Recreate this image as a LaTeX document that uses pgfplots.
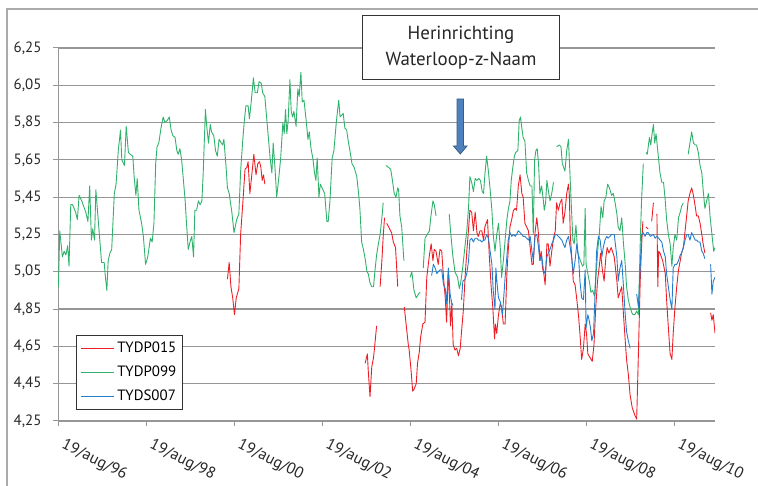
\documentclass[border=0pt]{standalone}
\usepackage{pgfplots}
\pgfplotsset{compat=1.18}
\usepackage{fontspec}
\setmainfont{PT Sans}

\definecolor{cRed}{RGB}{238,30,38}
\definecolor{cGreen}{RGB}{48,178,108}
\definecolor{cBlue}{RGB}{35,125,205}
\definecolor{cGrid}{RGB}{150,150,150}
\definecolor{cArrow}{RGB}{79,129,189}
\definecolor{cArrowD}{RGB}{56,93,138}

\begin{document}
\begin{tikzpicture}[x=1bp,y=1bp]
\useasboundingbox (0,0) rectangle (758,486);
% chart area border
\draw[cGrid!80,line width=1.2bp] (7,0) -- (7,477) -- (758,477);

\begin{axis}[
  at={(58bp,65bp)}, anchor=south west,
  scale only axis, width=657bp, height=373bp,
  xmin=1996.63, xmax=2011.56,
  ymin=4.25, ymax=6.25,
  axis x line*=bottom, axis y line*=left,
  axis line style={cGrid,line width=1bp},
  xtick={1996.63,1998.63,2000.63,2002.63,2004.63,2006.63,2008.63,2010.63},
  xticklabels={19/aug/96,19/aug/98,19/aug/00,19/aug/02,19/aug/04,19/aug/06,19/aug/08,19/aug/10},
  ytick={4.25,4.45,4.65,4.85,5.05,5.25,5.45,5.65,5.85,6.05,6.25},
  yticklabels={{4,25},{4,45},{4,65},{4,85},{5,05},{5,25},{5,45},{5,65},{5,85},{6,05},{6,25}},
  tick align=outside, major tick length=5bp,
  tick style={cGrid,line width=1bp},
  ymajorgrids, grid style={cGrid,line width=1.2bp},
  ticklabel style={text=black!85},
  yticklabel style={font=\fontsize{15}{15}\selectfont, xshift=-8bp},
  xticklabel style={font=\fontsize{16}{16}\selectfont, xshift=6.5bp, yshift=-6.5bp, rotate=-27, anchor=north west},
  unbounded coords=jump,
  every axis plot/.append style={line width=0.9bp, line join=round},
  legend style={at={(axis description cs:0.0274,0.2306)}, anchor=north west,
    draw=black!80, line width=0.8bp, fill=white,
    font=\fontsize{15}{15}\selectfont,
    inner xsep=4bp, inner ysep=4bp, row sep=6bp, column sep=1bp,
    nodes={inner sep=2bp, text height=11bp, text depth=3bp},
    cells={anchor=west}},
  legend image code/.code={\draw[#1] (0bp,0bp) -- (33bp,0bp);},
]

% TYDP015
\addplot[cRed] coordinates {
(2000.48,5.01) (2000.52,5.10) (2000.56,4.97) (2000.60,4.91) (2000.64,4.82) (2000.68,4.91)
(2000.74,4.96) (2000.78,5.25) (2000.83,5.42) (2000.88,5.60) (2000.92,5.61) (2000.95,5.64)
(2000.99,5.47) (2001.03,5.56) (2001.08,5.68) (2001.13,5.57) (2001.17,5.63) (2001.21,5.64)
(2001.24,5.61) (2001.27,5.54) (2001.30,5.57) (2001.33,5.52)
(2001.40,nan)
(2003.61,4.56) (2003.66,4.61) (2003.68,4.52) (2003.72,4.38) (2003.76,4.54) (2003.80,4.59)
(2003.83,4.66) (2003.87,4.76)
(2003.91,nan)
(2003.95,4.97) (2003.99,5.11) (2004.02,5.24) (2004.05,5.34)
(2004.07,nan)
(2004.10,5.31) (2004.21,5.26) (2004.25,5.21) (2004.30,5.18) (2004.35,4.97)
(2004.42,nan)
(2004.50,4.86) (2004.54,4.77) (2004.59,4.66) (2004.61,4.63) (2004.65,4.53) (2004.69,4.41)
(2004.72,4.42) (2004.77,4.45) (2004.80,4.56) (2004.84,4.62) (2004.87,4.70) (2004.92,4.77)
(2004.97,4.78) (2005.01,5.02) (2005.07,5.14) (2005.11,5.20) (2005.15,5.11) (2005.18,5.17)
(2005.22,5.16) (2005.27,5.09) (2005.31,5.17) (2005.35,5.16) (2005.39,5.02) (2005.43,4.91)
(2005.46,4.78) (2005.50,5.06) (2005.52,4.95) (2005.55,4.76) (2005.58,4.88) (2005.61,4.66)
(2005.65,4.63) (2005.69,4.64) (2005.73,4.60) (2005.77,4.64) (2005.80,4.73) (2005.84,4.84)
(2005.88,5.02) (2005.92,5.16) (2005.96,5.28) (2005.99,5.38) (2006.03,5.37) (2006.07,5.27)
(2006.11,5.37) (2006.15,5.26) (2006.18,5.24) (2006.22,5.27) (2006.26,5.27) (2006.30,5.22)
(2006.33,5.29) (2006.39,5.33) (2006.43,5.14) (2006.47,4.98) (2006.51,4.86) (2006.55,4.69)
(2006.57,4.77) (2006.60,4.72) (2006.64,4.82) (2006.68,4.88) (2006.71,4.86) (2006.75,4.77)
(2006.79,4.77) (2006.83,5.04) (2006.86,5.16) (2006.90,5.29) (2006.94,5.33) (2006.98,5.38)
(2007.02,5.39) (2007.05,5.38) (2007.09,5.51) (2007.13,5.57) (2007.17,5.47) (2007.20,5.45)
(2007.24,5.31) (2007.28,5.29) (2007.32,5.27) (2007.36,5.18) (2007.40,5.09) (2007.43,5.09)
(2007.47,5.26) (2007.51,5.34) (2007.55,5.25) (2007.58,5.11) (2007.61,5.16) (2007.64,5.07)
(2007.67,5.04) (2007.70,4.98) (2007.74,5.20) (2007.77,5.20) (2007.81,5.08) (2007.85,5.16)
(2007.89,5.23) (2007.93,5.27) (2007.96,5.42) (2008.00,5.38) (2008.04,5.42) (2008.08,5.44)
(2008.11,5.31) (2008.15,5.37) (2008.19,5.47) (2008.23,5.52) (2008.25,5.46) (2008.27,5.25)
(2008.31,5.11) (2008.34,5.00) (2008.38,4.98) (2008.42,4.90) (2008.46,4.81) (2008.49,4.72)
(2008.53,4.58) (2008.57,4.64) (2008.61,4.77) (2008.64,4.72) (2008.67,4.61) (2008.72,4.59)
(2008.77,4.57) (2008.81,4.66) (2008.85,4.86) (2008.89,5.00) (2008.93,5.08) (2008.96,5.15)
(2009.00,5.06) (2009.04,5.00) (2009.08,5.13) (2009.11,5.18) (2009.15,5.15) (2009.20,5.18)
(2009.23,5.16) (2009.27,5.13) (2009.33,5.00) (2009.36,4.91) (2009.40,4.94) (2009.44,4.97)
(2009.48,4.82) (2009.52,4.68) (2009.55,4.58) (2009.59,4.50) (2009.63,4.39) (2009.68,4.32)
(2009.74,4.28) (2009.78,4.26) (2009.82,4.62) (2009.86,5.00) (2009.89,5.18) (2009.92,5.32)
(2009.96,nan)
(2009.99,5.29) (2010.04,5.28)
(2010.08,nan)
(2010.12,5.32) (2010.16,5.42)
(2010.20,nan)
(2010.24,5.36) (2010.26,4.97) (2010.28,5.16) (2010.31,5.15) (2010.37,5.11) (2010.43,5.04)
(2010.46,4.90) (2010.50,4.75) (2010.54,4.61) (2010.58,4.58) (2010.61,4.72) (2010.65,4.86)
(2010.69,4.97) (2010.73,5.06) (2010.77,5.11) (2010.80,5.15) (2010.84,5.18) (2010.88,5.27)
(2010.92,5.36) (2010.95,5.43) (2010.99,5.47) (2011.03,5.50) (2011.07,5.46) (2011.11,5.40)
(2011.14,5.35) (2011.18,5.35) (2011.22,5.31) (2011.26,5.25) (2011.29,5.20) (2011.33,5.15)
(2011.40,nan)
(2011.46,4.83) (2011.49,4.79) (2011.52,4.82) (2011.56,4.72)
};
\addlegendentry{TYDP015}

% TYDP099
\addplot[cGreen] coordinates {
(1996.64,4.97) (1996.67,5.27) (1996.73,5.13) (1996.77,5.16) (1996.81,5.14) (1996.85,5.19)
(1996.88,5.08) (1996.92,5.41) (1996.96,5.41) (1997.03,5.37) (1997.07,5.33) (1997.11,5.46)
(1997.17,5.43) (1997.26,5.37) (1997.31,5.32) (1997.35,5.51) (1997.39,5.22) (1997.42,5.28)
(1997.46,5.22) (1997.49,5.49) (1997.55,5.31) (1997.62,5.10) (1997.68,5.10) (1997.70,5.04)
(1997.74,4.95) (1997.77,5.11) (1997.81,5.15) (1997.85,5.17) (1997.91,5.47) (1997.95,5.52)
(1998.00,5.70) (1998.05,5.81) (1998.08,5.65) (1998.14,5.62) (1998.18,5.83) (1998.23,5.69)
(1998.27,5.68) (1998.33,5.67) (1998.36,5.56) (1998.40,5.46) (1998.43,5.55) (1998.47,5.38)
(1998.53,5.31) (1998.57,5.24) (1998.62,5.09) (1998.67,5.13) (1998.73,5.23) (1998.77,5.21)
(1998.81,5.31) (1998.85,5.63) (1998.88,5.72) (1998.92,5.74) (1998.97,5.82) (1999.02,5.88)
(1999.06,5.85) (1999.11,5.86) (1999.16,5.88) (1999.20,5.81) (1999.24,5.78) (1999.29,5.77)
(1999.33,5.70) (1999.36,5.68) (1999.40,5.71) (1999.44,5.65) (1999.48,5.54) (1999.52,5.43)
(1999.55,5.31) (1999.59,5.17) (1999.63,5.21) (1999.67,5.24) (1999.71,5.13) (1999.74,5.38)
(1999.78,5.38) (1999.82,5.43) (1999.86,5.41) (1999.90,5.43) (1999.93,5.58) (1999.98,5.92)
(2000.01,5.83) (2000.05,5.74) (2000.09,5.84) (2000.12,5.80) (2000.17,5.78) (2000.21,5.70)
(2000.25,5.67) (2000.29,5.76) (2000.37,5.73) (2000.40,5.76) (2000.45,5.61) (2000.48,5.50)
(2000.52,5.47) (2000.58,5.37) (2000.63,5.26) (2000.69,5.33) (2000.74,5.36) (2000.78,5.59)
(2000.83,5.76) (2000.86,5.85) (2000.90,5.94) (2000.95,5.94) (2000.98,5.87) (2001.02,5.96)
(2001.07,6.09) (2001.11,6.01) (2001.16,6.01) (2001.20,6.07) (2001.25,6.06) (2001.28,6.01)
(2001.33,5.99) (2001.37,5.88) (2001.41,5.77) (2001.45,5.66) (2001.49,5.58) (2001.52,5.74)
(2001.56,5.61) (2001.60,5.45) (2001.65,5.56) (2001.69,5.66) (2001.74,5.85) (2001.77,5.79)
(2001.80,5.92) (2001.83,5.79) (2001.86,5.86) (2001.90,6.08) (2001.93,5.91) (2001.96,5.88)
(2001.99,5.91) (2002.04,5.83) (2002.08,6.03) (2002.11,5.99) (2002.15,6.12) (2002.18,5.96)
(2002.22,5.97) (2002.27,5.86) (2002.31,5.76) (2002.34,5.80) (2002.38,5.71) (2002.42,5.66)
(2002.46,5.58) (2002.49,5.54) (2002.52,5.66) (2002.56,5.45) (2002.59,5.52) (2002.63,5.50)
(2002.69,5.47) (2002.74,5.32) (2002.77,5.32) (2002.81,5.43) (2002.86,5.66) (2002.90,5.70)
(2002.95,5.84) (2002.98,5.91) (2003.01,5.97) (2003.04,5.88) (2003.08,5.89) (2003.11,5.90)
(2003.15,5.82) (2003.19,5.81) (2003.22,5.76) (2003.27,5.69) (2003.31,5.63) (2003.36,5.61)
(2003.42,5.56) (2003.46,5.47) (2003.49,5.39) (2003.53,5.21) (2003.57,5.17) (2003.61,5.12)
(2003.65,5.05) (2003.68,5.04) (2003.72,4.99) (2003.76,4.97) (2003.80,4.97) (2003.83,5.05)
(2003.87,5.14) (2003.91,5.20) (2003.95,5.25) (2003.99,5.34) (2004.02,5.42)
(2004.05,nan)
(2004.08,5.62) (2004.14,5.61) (2004.19,5.60) (2004.23,5.54) (2004.27,5.47) (2004.31,5.45)
(2004.35,5.50) (2004.37,5.49) (2004.40,5.35) (2004.44,5.29) (2004.49,5.11)
(2004.56,nan)
(2004.63,5.02) (2004.67,5.05) (2004.72,4.95) (2004.77,4.91) (2004.82,4.93) (2004.86,4.94)
(2004.90,nan)
(2004.93,5.07) (2004.97,5.23) (2005.02,5.25) (2005.07,5.27) (2005.10,5.34) (2005.15,5.43)
(2005.18,5.41) (2005.22,5.35)
(2005.37,nan)
(2005.52,5.36) (2005.55,5.27) (2005.60,5.14) (2005.65,5.05) (2005.71,5.02) (2005.75,4.96)
(2005.78,4.99) (2005.83,5.08) (2005.88,5.19) (2005.92,5.27) (2005.96,5.40) (2005.99,5.56)
(2006.03,5.53) (2006.07,5.48) (2006.11,5.55) (2006.15,5.54) (2006.19,5.55) (2006.23,5.54)
(2006.27,5.48) (2006.30,5.47) (2006.33,5.57) (2006.37,5.67) (2006.41,5.59) (2006.45,5.49)
(2006.49,5.38) (2006.52,5.25) (2006.56,5.16) (2006.60,5.25) (2006.64,5.31) (2006.68,5.18)
(2006.71,5.02) (2006.75,5.11) (2006.79,5.22) (2006.83,5.33) (2006.86,5.38) (2006.90,5.43)
(2006.93,5.54) (2006.96,5.60) (2007.00,5.67) (2007.03,5.69) (2007.08,5.70) (2007.11,5.86)
(2007.14,5.88) (2007.17,5.82) (2007.20,5.77) (2007.24,5.75) (2007.28,5.58) (2007.32,5.54)
(2007.36,5.51) (2007.40,5.51) (2007.43,5.25) (2007.46,5.65) (2007.49,5.70) (2007.52,5.71)
(2007.55,5.63) (2007.58,5.47) (2007.62,5.51) (2007.66,5.43) (2007.68,5.38) (2007.71,5.42)
(2007.74,5.54) (2007.77,5.49) (2007.81,5.43) (2007.85,5.47) (2007.89,5.53)
(2007.92,nan)
(2007.96,5.72) (2008.02,5.73) (2008.06,5.72) (2008.09,5.63) (2008.12,5.61) (2008.15,5.59)
(2008.19,5.70) (2008.23,5.76) (2008.25,5.65) (2008.29,5.43) (2008.33,5.22) (2008.36,5.20)
(2008.40,5.30) (2008.44,5.15) (2008.47,5.13) (2008.50,5.11) (2008.55,5.08) (2008.58,5.09)
(2008.61,5.39) (2008.63,5.09) (2008.67,5.04) (2008.71,4.99) (2008.74,4.94) (2008.78,4.95)
(2008.82,4.92) (2008.86,5.04) (2008.90,5.18) (2008.93,5.25) (2008.97,5.40) (2009.01,5.34)
(2009.04,5.43) (2009.08,5.45) (2009.12,5.52) (2009.16,5.50) (2009.21,5.46) (2009.25,5.47)
(2009.29,5.42) (2009.33,5.36) (2009.36,5.29) (2009.40,5.27) (2009.44,5.34) (2009.48,5.20)
(2009.52,5.09) (2009.55,4.97) (2009.59,4.90) (2009.63,4.86) (2009.67,4.83) (2009.70,4.82)
(2009.74,4.82) (2009.78,4.84) (2009.82,4.82) (2009.86,5.20) (2009.89,5.43) (2009.93,5.63)
(2009.96,nan)
(2009.99,5.69) (2010.02,5.68) (2010.07,5.77) (2010.10,5.73) (2010.13,5.79) (2010.16,5.84)
(2010.19,5.74) (2010.22,5.79) (2010.25,5.72) (2010.28,5.65) (2010.31,5.58) (2010.35,5.53)
(2010.39,5.53) (2010.43,5.43) (2010.46,5.33) (2010.50,5.25) (2010.54,5.20) (2010.58,5.08)
(2010.61,5.18) (2010.65,5.25) (2010.69,5.22) (2010.73,5.34) (2010.77,5.37) (2010.80,5.40)
(2010.84,5.42)
(2010.90,nan)
(2010.95,5.68) (2010.99,5.74) (2011.03,5.80) (2011.07,5.74) (2011.11,5.73) (2011.14,5.73)
(2011.18,5.69) (2011.22,5.62) (2011.26,5.58) (2011.29,5.49) (2011.33,5.39) (2011.37,5.43)
(2011.41,5.47) (2011.45,5.34) (2011.49,5.25) (2011.53,5.16) (2011.56,5.18)
};
\addlegendentry{TYDP099}

% TYDS007
\addplot[cBlue] coordinates {
(2005.12,5.03) (2005.16,5.09) (2005.20,5.07) (2005.24,5.04) (2005.27,5.05) (2005.31,5.06)
(2005.35,5.06) (2005.39,4.98) (2005.43,4.96) (2005.46,4.88) (2005.50,5.07) (2005.54,4.93)
(2005.58,4.88) (2005.61,4.87)
(2005.70,nan)
(2005.80,4.90) (2005.83,5.00) (2005.88,5.01) (2005.92,5.04) (2005.96,5.11) (2005.99,5.22)
(2006.03,5.23) (2006.07,5.21) (2006.11,5.23) (2006.15,5.23) (2006.18,5.22) (2006.22,5.22)
(2006.26,5.21) (2006.30,5.22) (2006.33,5.22) (2006.37,5.25) (2006.41,5.23) (2006.45,5.16)
(2006.49,5.09) (2006.52,4.95) (2006.56,4.85) (2006.58,5.07) (2006.61,4.98) (2006.64,4.91)
(2006.68,4.89) (2006.71,4.85) (2006.73,4.82) (2006.77,4.95) (2006.79,5.02) (2006.83,5.13)
(2006.86,5.22) (2006.90,5.26) (2006.94,5.24) (2006.98,5.25) (2007.02,5.24) (2007.05,5.25)
(2007.09,5.27) (2007.13,5.26) (2007.17,5.25) (2007.20,5.24) (2007.24,5.24) (2007.28,5.23)
(2007.32,5.22) (2007.36,5.24) (2007.40,5.16) (2007.43,5.11) (2007.47,5.24) (2007.51,5.25)
(2007.55,5.18) (2007.58,5.11) (2007.62,5.14) (2007.66,5.06) (2007.70,5.04) (2007.74,5.13)
(2007.77,5.15) (2007.81,5.17) (2007.85,5.20) (2007.89,5.22) (2007.93,5.25) (2007.96,5.25)
(2008.00,5.24) (2008.04,5.23) (2008.08,5.22) (2008.11,5.20) (2008.15,5.18) (2008.19,5.22)
(2008.23,5.24) (2008.27,5.18) (2008.31,5.11) (2008.34,5.04) (2008.38,5.11) (2008.42,5.20)
(2008.46,5.13) (2008.49,5.00) (2008.53,4.91) (2008.57,4.90) (2008.61,5.06) (2008.63,4.75)
(2008.67,4.82) (2008.70,4.79) (2008.73,4.75) (2008.76,4.68) (2008.80,4.72) (2008.84,4.97)
(2008.87,5.16) (2008.91,5.24) (2008.95,5.22) (2008.99,5.13) (2009.02,5.18) (2009.06,5.22)
(2009.10,5.24) (2009.13,5.23) (2009.17,5.24) (2009.21,5.25) (2009.27,5.25) (2009.33,5.13)
(2009.36,5.00) (2009.40,5.07) (2009.44,5.11) (2009.48,4.97) (2009.52,4.82) (2009.55,4.73)
(2009.59,4.68) (2009.63,4.64)
(2009.70,nan)
(2009.78,4.93) (2009.82,4.86) (2009.86,5.07) (2009.89,5.25) (2009.93,5.26) (2009.97,5.24)
(2010.01,5.26) (2010.04,5.26) (2010.09,5.24) (2010.16,5.25) (2010.20,5.23) (2010.24,5.24)
(2010.28,5.23) (2010.31,5.22) (2010.35,5.21) (2010.39,5.16) (2010.43,5.13) (2010.46,5.04)
(2010.50,4.97) (2010.54,4.90) (2010.58,4.85) (2010.61,5.07) (2010.65,5.09) (2010.69,5.09)
(2010.73,5.11) (2010.77,5.14) (2010.80,5.15) (2010.84,5.18) (2010.88,5.22) (2010.92,5.25)
(2010.95,5.25) (2010.99,5.22) (2011.03,5.26) (2011.07,5.24) (2011.11,5.22) (2011.14,5.22)
(2011.18,5.21) (2011.22,5.21) (2011.26,5.16) (2011.29,5.15) (2011.33,5.12)
(2011.40,nan)
(2011.46,5.09) (2011.49,4.93) (2011.52,5.00) (2011.56,5.02)
};
\addlegendentry{TYDS007}
\end{axis}

% annotation
\draw[black!80,line width=0.9bp,fill=white] (362.7,406.7) rectangle (559,470.3);
\node[align=center,text=black!85,font=\fontsize{19}{26}\selectfont] at (461,438.5)
  {Herinrichting\\Waterloop-z-Naam};
\draw[cArrowD,line width=0.8bp,fill=cArrow]
  (457,387) -- (463.5,387) -- (463.5,340) -- (467,340) -- (460.3,332)
  -- (453.5,340) -- (457,340) -- cycle;
\end{tikzpicture}
\end{document}
